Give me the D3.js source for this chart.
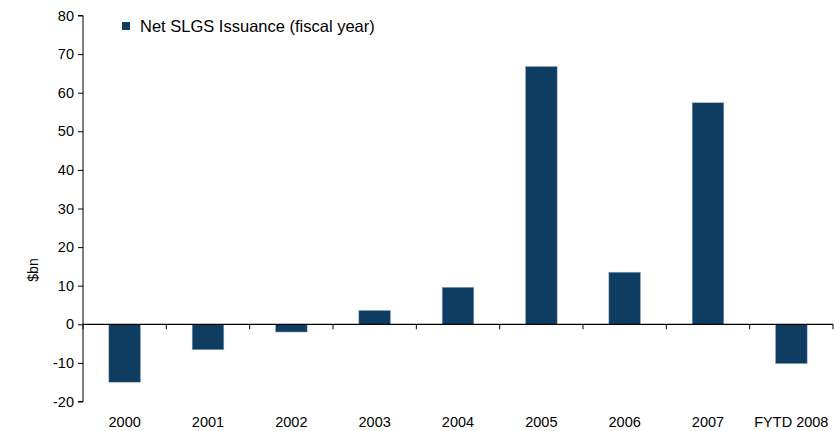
<!DOCTYPE html>
<html>
<head>
<meta charset="utf-8">
<script src="https://cdn.jsdelivr.net/npm/d3@7"></script>
<style>
	body { margin: 0; background: #fff; }
	text { font-family: "Liberation Sans", Arial, sans-serif; fill: #000; }
</style>
</head>
<body>
<svg id="chart" width="834" height="431"></svg>
<script>
const categories = ['2000', '2001', '2002', '2003', '2004', '2005', '2006', '2007', 'FYTD 2008'];
const values = [-15, -6.6, -2, 3.6, 9.6, 66.8, 13.5, 57.4, -10.2];
const yTicks = [-20, -10, 0, 10, 20, 30, 40, 50, 60, 70, 80];
const seriesName = 'Net SLGS Issuance (fiscal year)';

const svg = d3.select('#chart');
const color = '#0f3c61';

const x = d3.scaleBand(categories, [83, 833]).paddingInner(0.62).paddingOuter(0.31);
const y = d3.scaleLinear([-20, 80], [401.5, 15.5]);

// y axis
const yAxis = svg.append('g')
	.attr('transform', 'translate(83,0)')
	.call(d3.axisLeft(y).tickValues(yTicks).tickFormat(d => String(d)).tickSize(5).tickPadding(4));
yAxis.select('.domain').attr('d', `M-5,${y(-20)}H0V${y(80)}H-5`);
yAxis.selectAll('text').style('font-size', '14.5px');

// bars
svg.append('g')
	.selectAll('rect')
	.data(values)
	.join('rect')
	.attr('x', (d, i) => x(categories[i]))
	.attr('width', x.bandwidth())
	.attr('y', d => y(Math.max(0, d)))
	.attr('height', d => Math.abs(y(d) - y(0)))
	.style('fill', color)
	.style('stroke', '#9fb3c6')
	.style('stroke-width', 0.5);

// x axis line + ticks at band boundaries
const step = x.step();
const xg = svg.append('g').attr('transform', `translate(0,${y(0)})`);
xg.append('line')
	.attr('x1', 83).attr('x2', 833)
	.attr('y1', 0).attr('y2', 0)
	.style('stroke', '#000').style('stroke-width', 1.3);
xg.selectAll('line.tick')
	.data(d3.range(categories.length + 1))
	.join('line')
	.attr('class', 'tick')
	.attr('x1', i => 83 + i * step).attr('x2', i => 83 + i * step)
	.attr('y1', 0).attr('y2', 5)
	.style('stroke', '#000');

// x labels at bottom
svg.append('g')
	.selectAll('text')
	.data(categories)
	.join('text')
	.attr('x', d => x(d) + x.bandwidth() / 2)
	.attr('y', 427)
	.attr('text-anchor', 'middle')
	.style('font-size', '14.5px')
	.text(d => d);

// y title
svg.append('text')
	.attr('transform', 'translate(38,270) rotate(-90)')
	.attr('text-anchor', 'middle')
	.style('font-size', '14px')
	.text('$bn');

// legend
svg.append('rect')
	.attr('x', 122).attr('y', 22)
	.attr('width', 8).attr('height', 8)
	.style('fill', color);
svg.append('text')
	.attr('x', 140).attr('y', 32)
	.style('font-size', '16.5px')
	.text(seriesName);
</script>
</body>
</html>
